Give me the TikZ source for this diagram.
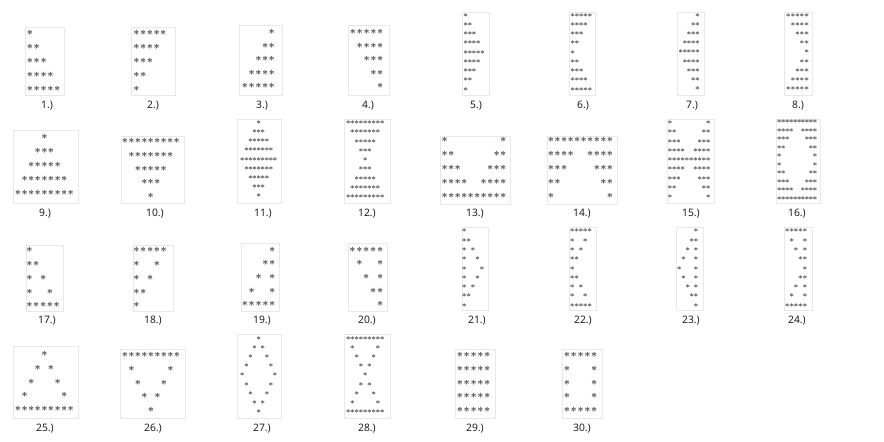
\documentclass[tikz,border=0pt]{standalone}
\usepackage{fontspec}
\newfontfamily\lblfont{Noto Sans}
\usetikzlibrary{shadows}
\tikzset{
  sbox/.style={draw=black!9, fill=white, line width=0.4pt,
    drop shadow={shadow xshift=1.1pt, shadow yshift=-1.1pt, opacity=0.16, fill=black}},
  bigstar/.style={inner sep=0pt, text=black!78, font=\fontsize{11}{11}\selectfont\bfseries, yshift=-1.7pt},
  smallstar/.style={inner sep=0pt, text=black!72, font=\fontsize{7.8}{7.8}\selectfont\bfseries, yshift=-1.2pt},
  lbl/.style={inner sep=0pt, text=black!88, font=\lblfont\fontsize{10.3}{10.3}\selectfont}
}
% #1 name, #2 box path, #3 gx, #4 gy, #5 dx, #6 dy, #7 style, #8 rows
\newcommand\starbox[8]{%
  \path[sbox] #2;
  \foreach \rw [count=\r from 0] in {#8} {
    \foreach \c in \rw {
      \node[#7] (s#1-\r-\c) at ({#3+(\c-1)*#5},{#4+\r*#6}) {*};
    }
  }
}
\begin{document}
\begin{tikzpicture}[x=1pt,y=-1pt]
\fill[white] (0,0) rectangle (884,442);
\useasboundingbox (0,0) rectangle (884,442);
% row 1
\starbox{1}{(25,27) rectangle (64,95)}{30}{33}{6.8}{13.8}{bigstar}{{1},{1,2},{1,2,3},{1,2,3,4},{1,2,3,4,5}}
\starbox{2}{(131,27) rectangle (175,95)}{136.5}{33}{6.7}{13.8}{bigstar}{{1,2,3,4,5},{1,2,3,4},{1,2,3},{1,2},{1}}
\starbox{3}{(239,25) rectangle (282,95)}{245}{31.7}{6.7}{13.5}{bigstar}{{5},{4,5},{3,4,5},{2,3,4,5},{1,2,3,4,5}}
\starbox{4}{(348,25) rectangle (389,95)}{353}{31.7}{6.8}{13.5}{bigstar}{{1,2,3,4,5},{2,3,4,5},{3,4,5},{4,5},{5}}
\starbox{5}{(462,12) rectangle (489,95)}{465.7}{15}{4.2}{9.25}{smallstar}{{1},{1,2},{1,2,3},{1,2,3,4},{1,2,3,4,5},{1,2,3,4},{1,2,3},{1,2},{1}}
\starbox{6}{(569,12) rectangle (595,95)}{572.7}{15}{4.3}{9.25}{smallstar}{{1,2,3,4,5},{1,2,3,4},{1,2,3},{1,2},{1},{1,2},{1,2,3},{1,2,3,4},{1,2,3,4,5}}
\starbox{7}{(677,12) rectangle (704,95)}{680.7}{15}{4.2}{9.2}{smallstar}{{5},{4,5},{3,4,5},{2,3,4,5},{1,2,3,4,5},{2,3,4,5},{3,4,5},{4,5},{5}}
\starbox{8}{(784,12) rectangle (812,95)}{788.3}{15}{4.6}{9.2}{smallstar}{{1,2,3,4,5},{2,3,4,5},{3,4,5},{4,5},{5},{4,5},{3,4,5},{2,3,4,5},{1,2,3,4,5}}
% row 2
\starbox{9}{(13,130) rectangle (78,203)}{18}{137}{6.6}{13.8}{bigstar}{{5},{4,5,6},{3,4,5,6,7},{2,3,4,5,6,7,8},{1,2,3,4,5,6,7,8,9}}
\starbox{10}{(121,136) rectangle (184,203)}{125}{141}{6.45}{13.7}{bigstar}{{1,2,3,4,5,6,7,8,9},{2,3,4,5,6,7,8},{3,4,5,6,7},{4,5,6},{5}}
\starbox{11}{(237,119) rectangle (281,203)}{242.3}{122.3}{4.1}{9.17}{smallstar}{{5},{4,5,6},{3,4,5,6,7},{2,3,4,5,6,7,8},{1,2,3,4,5,6,7,8,9},{2,3,4,5,6,7,8},{3,4,5,6,7},{4,5,6},{5}}
\starbox{12}{(344,119) rectangle (390,203)}{348.3}{122.3}{4.25}{9.3}{smallstar}{{1,2,3,4,5,6,7,8,9},{2,3,4,5,6,7,8},{3,4,5,6,7},{4,5,6},{5},{4,5,6},{3,4,5,6,7},{2,3,4,5,6,7,8},{1,2,3,4,5,6,7,8,9}}
\starbox{13}{(440,136) rectangle (510,204)}{444.7}{140}{6.5}{13.9}{bigstar}{{1,10},{1,2,9,10},{1,2,3,8,9,10},{1,2,3,4,7,8,9,10},{1,2,3,4,5,6,7,8,9,10}}
\starbox{14}{(547,136) rectangle (617,204)}{551}{140}{6.55}{13.9}{bigstar}{{1,2,3,4,5,6,7,8,9,10},{1,2,3,4,7,8,9,10},{1,2,3,8,9,10},{1,2,9,10},{1,10}}
\starbox{15}{(667,119) rectangle (714,203)}{670}{122.3}{4.26}{9.3}{smallstar}{{1,10},{1,2,9,10},{1,2,3,8,9,10},{1,2,3,4,7,8,9,10},{1,2,3,4,5,6,7,8,9,10},{1,2,3,4,7,8,9,10},{1,2,3,8,9,10},{1,2,9,10},{1,10}}
\starbox{16}{(776,119) rectangle (820,203)}{779.3}{121.7}{3.97}{8.5}{smallstar}{{1,2,3,4,5,6,7,8,9,10},{1,2,3,4,7,8,9,10},{1,2,3,8,9,10},{1,2,9,10},{1,10},{1,10},{1,2,9,10},{1,2,3,8,9,10},{1,2,3,4,7,8,9,10},{1,2,3,4,5,6,7,8,9,10}}
% row 3
\starbox{17}{(26,245) rectangle (63,311)}{29.5}{250}{6.8}{13.75}{bigstar}{{1},{1,2},{1,3},{1,4},{1,2,3,4,5}}
\starbox{18}{(133,245) rectangle (173,311)}{136.5}{250}{6.8}{13.75}{bigstar}{{1,2,3,4,5},{1,4},{1,3},{1,2},{1}}
\starbox{19}{(241,243) rectangle (279,311)}{245}{249.3}{6.8}{13.7}{bigstar}{{5},{4,5},{3,5},{2,5},{1,2,3,4,5}}
\starbox{20}{(348,243) rectangle (387,311)}{352.5}{249.3}{6.9}{13.7}{bigstar}{{1,2,3,4,5},{2,5},{3,5},{4,5},{5}}
\starbox{21}{(462,227) rectangle (488,310)}{464.3}{230.7}{4.4}{9.3}{smallstar}{{1},{1,2},{1,3},{1,4},{1,5},{1,4},{1,3},{1,2},{1}}
\starbox{22}{(569,227) rectangle (596,310)}{572.3}{230.7}{4.35}{9.3}{smallstar}{{1,2,3,4,5},{1,4},{1,3},{1,2},{1},{1,2},{1,3},{1,4},{1,2,3,4,5}}
\starbox{23}{(676,227) rectangle (703,310)}{679.3}{230.7}{4.17}{9.3}{smallstar}{{5},{4,5},{3,5},{2,5},{1,5},{2,5},{3,5},{4,5},{5}}
\starbox{24}{(784,227) rectangle (812,310)}{787.3}{230.7}{4.4}{9.3}{smallstar}{{1,2,3,4,5},{2,5},{3,5},{4,5},{5},{4,5},{3,5},{2,5},{1,2,3,4,5}}
% row 4
\starbox{25}{(13,346) rectangle (78,418)}{18}{354}{6.6}{13.7}{bigstar}{{5},{4,6},{3,7},{2,8},{1,2,3,4,5,6,7,8,9}}
\starbox{26}{(120,349) rectangle (185,418)}{125}{355}{6.5}{13.7}{bigstar}{{1,2,3,4,5,6,7,8,9},{2,8},{3,7},{4,6},{5}}
\starbox{27}{(237,334) rectangle (281,418)}{242.3}{338}{4.1}{9.2}{smallstar}{{5},{4,6},{3,7},{2,8},{1,9},{2,8},{3,7},{4,6},{5}}
\starbox{28}{(344,334) rectangle (390,418)}{348.3}{338}{4.25}{9.2}{smallstar}{{1,2,3,4,5,6,7,8,9},{2,8},{3,7},{4,6},{5},{4,6},{3,7},{2,8},{1,2,3,4,5,6,7,8,9}}
\starbox{29}{(455,349) rectangle (495,418)}{460}{355}{6.8}{13.7}{bigstar}{{1,2,3,4,5},{1,2,3,4,5},{1,2,3,4,5},{1,2,3,4,5},{1,2,3,4,5}}
\starbox{30}{(562,349) rectangle (602,418)}{567}{355}{6.8}{13.7}{bigstar}{{1,2,3,4,5},{1,5},{1,5},{1,5},{1,2,3,4,5}}
% labels
\node[lbl] (l1) at (47,106) {1.)};
\node[lbl] (l2) at (153,106) {2.)};
\node[lbl] (l3) at (262,106) {3.)};
\node[lbl] (l4) at (368,106) {4.)};
\node[lbl] (l5) at (476,106) {5.)};
\node[lbl] (l6) at (583,106) {6.)};
\node[lbl] (l7) at (692,106) {7.)};
\node[lbl] (l8) at (798,106) {8.)};
\node[lbl] (l9) at (45,214) {9.)};
\node[lbl] (l10) at (155,214) {10.)};
\node[lbl] (l11) at (263,214) {11.)};
\node[lbl] (l12) at (367,214) {12.)};
\node[lbl] (l13) at (475,214) {13.)};
\node[lbl] (l14) at (582,214) {14.)};
\node[lbl] (l15) at (691,214) {15.)};
\node[lbl] (l16) at (797,214) {16.)};
\node[lbl] (l17) at (47,321) {17.)};
\node[lbl] (l18) at (153,321) {18.)};
\node[lbl] (l19) at (262,321) {19.)};
\node[lbl] (l20) at (367,321) {20.)};
\node[lbl] (l21) at (477,321) {21.)};
\node[lbl] (l22) at (583,321) {22.)};
\node[lbl] (l23) at (691,321) {23.)};
\node[lbl] (l24) at (797,321) {24.)};
\node[lbl] (l25) at (45,429) {25.)};
\node[lbl] (l26) at (153,429) {26.)};
\node[lbl] (l27) at (262,429) {27.)};
\node[lbl] (l28) at (367,429) {28.)};
\node[lbl] (l29) at (475,429) {29.)};
\node[lbl] (l30) at (582,429) {30.)};
\end{tikzpicture}
\end{document}
